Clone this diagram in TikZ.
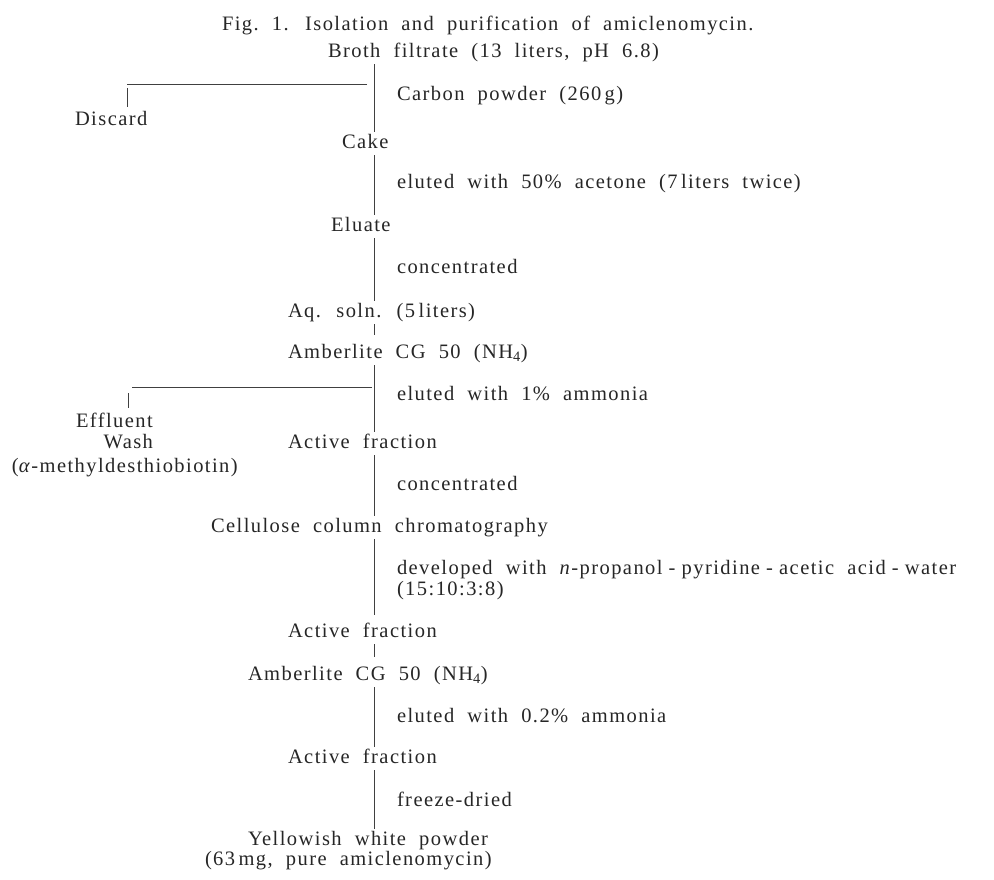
\documentclass[tikz,border=0pt]{standalone}
\usepackage{fontspec}
\setmainfont{Liberation Serif}[LetterSpace=7, WordSpace=2.0]
\newcommand{\hy}{\hspace{0.3em}-\hspace{0.3em}}
\begin{document}
\begin{tikzpicture}[x=1pt,y=-1pt,
  every node/.style={inner sep=0pt, outer sep=0pt, text=black!85,
    font=\fontsize{20.5}{23}\selectfont, text height=13pt, text depth=4pt},
  txt/.style={anchor=base west},
  trunkline/.style={line width=0.6pt, draw=black!75, shorten <=3pt, shorten >=3pt},
  branchline/.style={line width=0.6pt, draw=black!75}]
\useasboundingbox (0,0) rectangle (994,879);
\coordinate (trunk) at (374,0);
% texts
\node[txt] (title) at (222,30) {Fig.~1.\hspace{0.8em}Isolation and purification of amiclenomycin.};
\node[txt] (broth) at (328,57) {Broth filtrate (13 liters, pH 6.8)};
\node[txt] (carbon) at (397,100) {Carbon powder (260\,g)};
\node[txt] (discard) at (75,125) {Discard};
\node[txt] (cake) at (342,148) {Cake};
\node[txt] (eluate) at (331,231) {Eluate};
\node[txt] (elu1) at (397,188) {eluted with 50\% acetone (7\,liters twice)};
\node[txt] (conc1) at (397,273) {concentrated};
\node[txt] (aq) at (288,317) {Aq. soln. (5\,liters)};
\node[txt] (amb1) at (288,358) {Amberlite CG 50 (NH\textsubscript{4})};
\node[txt] (elu2) at (397,400) {eluted with 1\% ammonia};
\node[txt] (effl) at (76,427) {Effluent};
\node[anchor=base east] (wash) at (153,448) {Wash};
\node[txt] (methyl) at (12,472) {(\textit{α}-methyldesthiobiotin)};
\node[txt] (act1) at (288,448) {Active fraction};
\node[txt] (conc2) at (397,490) {concentrated};
\node[txt] (cell) at (211,532) {Cellulose column chromatography};
\node[txt] (dev) at (397,574) {developed with \textit{n}-propanol\hy pyridine\hy acetic acid\hy water};
\node[txt] (ratio) at (397,595) {(15:10:3:8)};
\node[txt] (act2) at (288,637) {Active fraction};
\node[txt] (amb2) at (248,680) {Amberlite CG 50 (NH\textsubscript{4})};
\node[txt] (elu3) at (397,722) {eluted with 0.2\% ammonia};
\node[txt] (act3) at (288,763) {Active fraction};
\node[txt] (freeze) at (397,806) {freeze-dried};
\node[txt] (yellow) at (248,845) {Yellowish white powder};
\node[txt] (pure) at (205,865) {(63\,mg, pure amiclenomycin)};
% trunk
\draw[trunkline] (broth.south -| trunk) -- (cake.north -| trunk);
\draw[trunkline] (cake.south -| trunk) -- (eluate.north -| trunk);
\draw[trunkline] (eluate.south -| trunk) -- (aq.north -| trunk);
\draw[trunkline, shorten >=10pt] (aq.south -| trunk) -- (amb1.north -| trunk);
\draw[trunkline] (amb1.south -| trunk) -- (act1.north -| trunk);
\draw[trunkline] (act1.south -| trunk) -- (cell.north -| trunk);
\draw[trunkline, shorten >=9pt] (cell.south -| trunk) -- (act2.north -| trunk);
\draw[trunkline, shorten >=10pt] (act2.south -| trunk) -- (amb2.north -| trunk);
\draw[trunkline] (amb2.south -| trunk) -- (act3.north -| trunk);
\draw[trunkline] (act3.south -| trunk) -- (yellow.north -| trunk);
% branch 1
\coordinate (b1r) at (367,84);
\coordinate (b1l) at (127,84);
\coordinate (t1) at (127,88);
\draw[branchline] (b1r) -- (b1l);
\draw[branchline, shorten >=5pt] (t1) -- (discard.north -| t1);
% branch 2
\coordinate (b2r) at (372,387);
\coordinate (b2l) at (132,387);
\coordinate (t2) at (128,393);
\draw[branchline] (b2r) -- (b2l);
\draw[branchline, shorten >=6pt] (t2) -- (effl.north -| t2);
\end{tikzpicture}
\end{document}
